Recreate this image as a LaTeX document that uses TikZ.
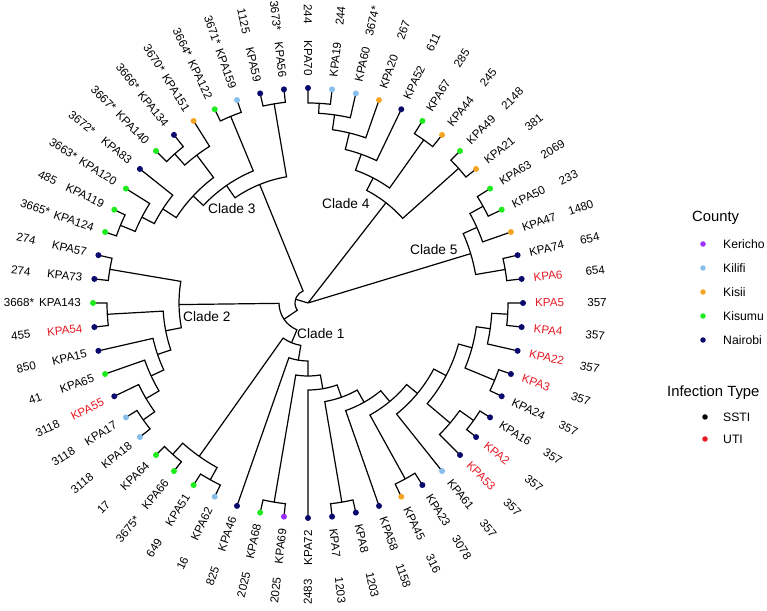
\documentclass[tikz,border=0pt]{standalone}
\usepackage{fontspec}
\setmainfont{Liberation Sans}

\definecolor{kericho}{RGB}{155,48,255}
\definecolor{kilifi}{RGB}{135,190,235}
\definecolor{kisii}{RGB}{245,165,35}
\definecolor{kisumu}{RGB}{30,235,30}
\definecolor{nairobi}{RGB}{10,10,110}
\definecolor{utired}{RGB}{230,25,35}

% angle step between two tips (56 tips)
\newcommand{\dA}{6.428571}
% node radius, child 1 (position, radius), child 2 (position, radius)
\newcommand{\treejoin}[5]{%
  \draw[treeline] ({90-(#2)*\dA}:#3) -- ({90-(#2)*\dA}:#1)
    arc[start angle={90-(#2)*\dA}, end angle={90-(#4)*\dA}, radius=#1]
    -- ({90-(#4)*\dA}:#5);}

\begin{document}
\begin{tikzpicture}[x=1pt,y=1pt,
  treeline/.style={line width=1.2pt,black},
  tipdot/.style={circle,inner sep=0pt,minimum size=6pt},
  tiplab/.style={inner sep=0pt,font=\fontsize{11.6}{13}\selectfont},
  numlab/.style={inner sep=0pt,font=\fontsize{11.6}{13}\selectfont},
  cladelab/.style={inner sep=0pt,anchor=west,font=\fontsize{13.7}{15}\selectfont},
  keydot/.style={circle,inner sep=0pt,minimum size=5.5pt},
  keytext/.style={inner sep=0pt,anchor=west,font=\fontsize{12.2}{14}\selectfont},
  keyhead/.style={inner sep=0pt,anchor=west,font=\fontsize{14.8}{17}\selectfont}]
\useasboundingbox (0,0) rectangle (767,610);

\begin{scope}[shift={(308,307)}]
  % root
  \draw[treeline] (0,0) -- ({90-8.6328*\dA}:1.5);
  \draw[treeline] (0,0) -- ({90-44.62*\dA}:13);
  \treejoin{1.5}{5.890625}{127}{11.375}{170}
  \treejoin{13}{36.694}{29}{52.546875}{128}
  \treejoin{29}{31.497314}{43}{41.890625}{129}

  % Clade 4
  \treejoin{200}{0}{215}{1}{215}
  \treejoin{190}{0.5}{200}{2}{215}
  \treejoin{175}{1.25}{190}{3}{215}
  \treejoin{158}{2.125}{175}{4}{215}
  \treejoin{200}{5}{215}{6}{215}
  \treejoin{141}{3.0625}{158}{5.5}{200}
  \treejoin{202}{7}{215}{8}{215}
  \treejoin{127}{4.28125}{141}{7.5}{202}

  % Clade 5
  \treejoin{200}{9}{215}{10}{215}
  \treejoin{185}{9.5}{200}{11}{215}
  \treejoin{200}{12}{215}{13}{215}
  \treejoin{170}{10.25}{185}{12.5}{200}

  % Clade 1
  \treejoin{200}{14}{215}{15}{215}
  \treejoin{184}{14.5}{200}{16}{215}
  \treejoin{202}{17}{215}{18}{215}
  \treejoin{170}{15.25}{184}{17.5}{202}
  \treejoin{203}{19}{215}{20}{215}
  \treejoin{186}{19.5}{203}{21}{215}
  \treejoin{156}{16.375}{170}{20.25}{186}
  \treejoin{142}{18.3125}{156}{22}{215}
  \treejoin{201}{23}{215}{24}{215}
  \treejoin{128}{20.15625}{142}{23.5}{201}
  \treejoin{114}{21.828125}{128}{25}{215}
  \treejoin{202}{26}{215}{27}{215}
  \treejoin{100}{23.414063}{114}{26.5}{202}
  \treejoin{87}{24.957031}{100}{28}{215}
  \treejoin{202}{29}{215}{30}{215}
  \treejoin{73}{26.478516}{87}{29.5}{202}
  \treejoin{58}{27.989258}{73}{31}{215}
  \treejoin{202}{32}{215}{33}{215}
  \treejoin{203}{34}{215}{35}{215}
  \treejoin{188}{32.5}{202}{34.5}{203}
  \treejoin{43}{29.494629}{58}{33.5}{188}

  % Clade 2
  \treejoin{202}{36}{215}{37}{215}
  \treejoin{188}{36.5}{202}{38}{215}
  \treejoin{173}{37.25}{188}{39}{215}
  \treejoin{159}{38.125}{173}{40}{215}
  \treejoin{201}{41}{215}{42}{215}
  \treejoin{145}{39.0625}{159}{41.5}{201}
  \treejoin{201}{43}{215}{44}{215}
  \treejoin{129}{40.28125}{145}{43.5}{201}

  % Clade 3
  \treejoin{203}{45}{215}{46}{215}
  \treejoin{187}{45.5}{203}{47}{215}
  \treejoin{173}{46.25}{187}{48}{215}
  \treejoin{200}{49}{215}{50}{215}
  \treejoin{185}{49.5}{200}{51}{215}
  \treejoin{157}{47.125}{173}{50.25}{185}
  \treejoin{202}{52}{215}{53}{215}
  \treejoin{143}{48.6875}{157}{52.5}{202}
  \treejoin{202}{54}{215}{55}{215}
  \treejoin{128}{50.59375}{143}{54.5}{202}

  % tips, names and numbers
  \foreach \p/\name/\num/\col/\lab in {
      0/KPA70/244/nairobi/black, 1/KPA19/244/kilifi/black,
      2/KPA60/3674*/kilifi/black, 3/KPA20/267/kisii/black,
      4/KPA52/611/nairobi/black, 5/KPA67/285/kisumu/black,
      6/KPA44/245/kisii/black, 7/KPA49/2148/kisumu/black,
      8/KPA21/381/kisii/black, 9/KPA63/2069/kisumu/black,
      10/KPA50/233/kisumu/black, 11/KPA47/1480/kisii/black,
      12/KPA74/654/nairobi/black, 13/KPA6/654/nairobi/utired,
      14/KPA5/357/nairobi/utired, 15/KPA4/357/nairobi/utired,
      16/KPA22/357/nairobi/utired, 17/KPA3/357/nairobi/utired,
      18/KPA24/357/nairobi/black, 19/KPA16/357/nairobi/black,
      20/KPA2/357/nairobi/utired, 21/KPA53/357/nairobi/utired,
      22/KPA61/357/kilifi/black, 23/KPA23/3078/nairobi/black,
      24/KPA45/316/kisii/black, 25/KPA58/1158/nairobi/black,
      26/KPA8/1203/nairobi/black, 27/KPA7/1203/nairobi/black,
      28/KPA72/2483/nairobi/black, 29/KPA69/2025/kericho/black,
      30/KPA68/2025/kisumu/black, 31/KPA46/825/nairobi/black,
      32/KPA62/16/kilifi/black, 33/KPA51/649/kisumu/black,
      34/KPA66/3675*/kisumu/black, 35/KPA64/17/kisumu/black,
      36/KPA18/3118/kilifi/black, 37/KPA17/3118/kilifi/black,
      38/KPA55/3118/nairobi/utired, 39/KPA65/41/kisumu/black,
      40/KPA15/850/nairobi/black, 41/KPA54/455/nairobi/utired,
      42/KPA143/3668*/kisumu/black, 43/KPA73/274/nairobi/black,
      44/KPA57/274/nairobi/black, 45/KPA124/3665*/kisumu/black,
      46/KPA119/485/kisumu/black, 47/KPA120/3663*/kisumu/black,
      48/KPA83/3672*/nairobi/black, 49/KPA140/3667*/kisumu/black,
      50/KPA134/3666*/nairobi/black, 51/KPA151/3670*/kisii/black,
      52/KPA122/3664*/kisumu/black, 53/KPA159/3671*/kilifi/black,
      54/KPA59/1125/nairobi/black, 55/KPA56/3673*/nairobi/black}
  {
    \pgfmathsetmacro{\ang}{90-\p*\dA}
    \pgfmathtruncatemacro{\flip}{(\ang>89.9)+(\ang<-89.9)}
    \node[tipdot,fill=\col] (t\p) at (\ang:215) {};
    \ifnum\flip=1
      \pgfmathsetmacro{\rot}{\ang+180}
      \node[tiplab,text=\lab,rotate=\rot,anchor=east] (n\p) at (\ang:227) {\name};
      \node[numlab,rotate=\rot] (v\p) at (\ang:289) {\num};
    \else
      \node[tiplab,text=\lab,rotate=\ang,anchor=west] (n\p) at (\ang:227) {\name};
      \node[numlab,rotate=\ang] (v\p) at (\ang:289) {\num};
    \fi
  }
\end{scope}

% clade labels
\node[cladelab] (c1) at (297,276) {Clade 1};
\node[cladelab] (c2) at (183,293) {Clade 2};
\node[cladelab] (c3) at (208,401) {Clade 3};
\node[cladelab] (c4) at (322,406) {Clade 4};
\node[cladelab] (c5) at (410,360) {Clade 5};

% legend
\node[keyhead] (county) at (692,392) {County};
\foreach \y/\cty/\col in {366/Kericho/kericho, 342/Kilifi/kilifi,
    318/Kisii/kisii, 294/Kisumu/kisumu, 270/Nairobi/nairobi}
{
  \node[keydot,fill=\col] (d\cty) at (703,\y) {};
  \node[keytext] (l\cty) at (723,\y) {\cty};
}
\node[keyhead] (infection) at (667,217) {Infection Type};
\node[keydot,fill=black] (dSSTI) at (705,193) {};
\node[keytext] (lSSTI) at (723,193) {SSTI};
\node[keydot,fill=utired] (dUTI) at (705,171) {};
\node[keytext] (lUTI) at (723,171) {UTI};
\end{tikzpicture}
\end{document}
